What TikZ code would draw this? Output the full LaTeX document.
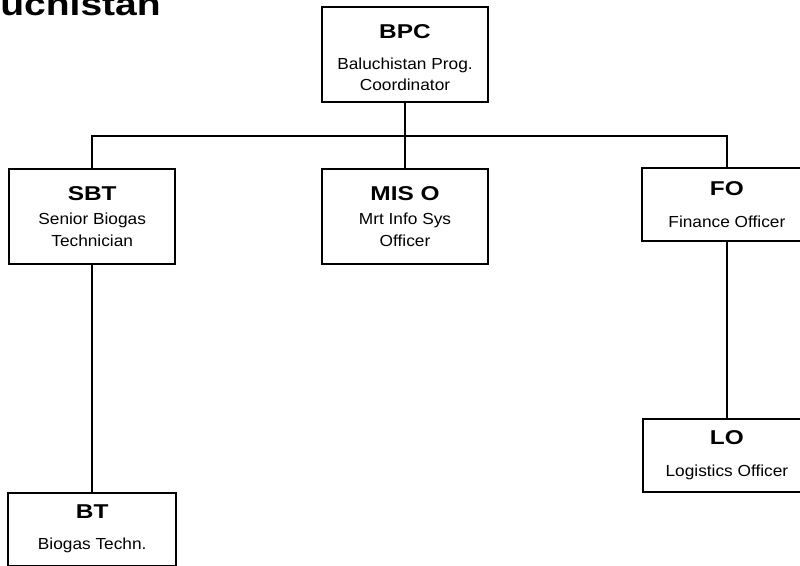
\documentclass[tikz,border=0pt]{standalone}
\usepackage{fontspec}
\setmainfont{Liberation Sans}
\newfontfamily\headfont[FakeStretch=1.22]{Liberation Sans}
\newfontfamily\subfont[FakeStretch=1.08]{Liberation Sans}
\usetikzlibrary{positioning}
\tikzset{
  post/.style={draw, line width=1.8pt, fill=white, align=center, inner sep=0pt, minimum width=166pt, minimum height=95pt, font=\subfont\fontsize{16}{21.5}\selectfont},
  shortpost/.style={post, minimum height=73pt},
  link/.style={line width=2pt},
  thinlink/.style={line width=1.2pt}
}
\newcommand{\postname}[1]{{\headfont\bfseries\fontsize{20}{20}\selectfont #1}}

\begin{document}
\begin{tikzpicture}[x=1pt, y=-1pt]
\useasboundingbox (0,0) rectangle (800,565);
\node[anchor=base east, inner sep=0pt, font=\headfont\bfseries\fontsize{32}{32}\selectfont] (title) at (161,15) {Baluchistan};
\node[post] (bpc) at (405,54.5) {\rule{0pt}{20pt}\postname{BPC}\\[9.5pt]Baluchistan Prog.\\Coordinator};
\node[post, below=65pt of bpc] (mis) {\postname{MIS O}\\[3pt]Mrt Info Sys\\Officer};
\node[post, left=145pt of mis] (sbt) {\postname{SBT}\\[3pt]Senior Biogas\\Technician};
\node[shortpost, minimum width=170pt, anchor=north west] (fo) at (641,167) {\postname{FO}\\[10.5pt]Finance Officer};
\node[shortpost, minimum width=168pt, below=227pt of sbt] (bt) {\postname{BT}\\[9.5pt]Biogas Techn.};
\node[shortpost, minimum width=168pt, below=176pt of fo] (lo) {\postname{LO}\\[10.5pt]Logistics Officer};

\draw[link] (bpc) -- (mis);
\draw[link] (sbt.north) -- ++(0,-32) -| (fo.north);
\draw[link] (sbt) -- (bt);
\draw[thinlink] (fo) -- (lo);
\end{tikzpicture}
\end{document}
